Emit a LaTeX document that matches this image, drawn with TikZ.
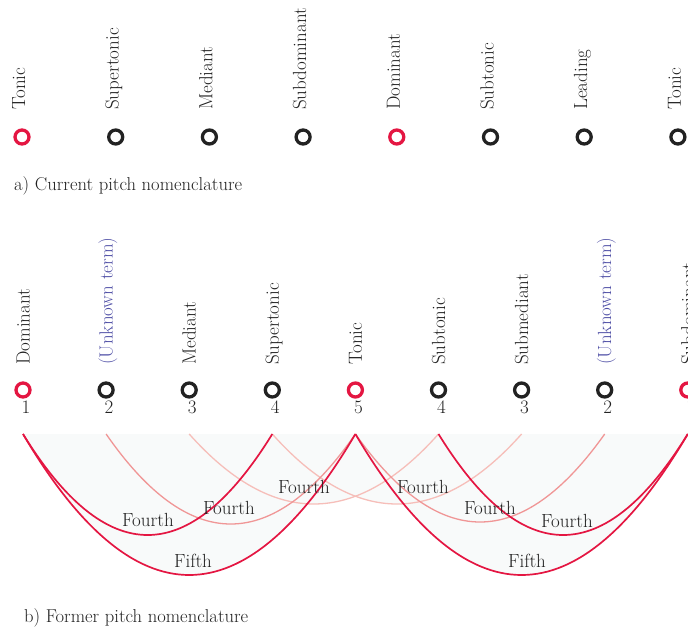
\documentclass[tikz,border=0pt]{standalone}
\usetikzlibrary{calc}
\definecolor{crim}{RGB}{228,22,66}
\definecolor{ink}{RGB}{34,34,34}
\definecolor{unk}{RGB}{78,78,165}
\definecolor{pale}{RGB}{248,250,250}
\definecolor{pinkA}{RGB}{240,150,150}
\definecolor{pinkB}{RGB}{246,190,185}
\newcommand\pitcharc[4]{%
  \draw[#1] (#2) .. controls ($(#2)!1/3!(#3)+(0,#4*4/3)$) and ($(#2)!2/3!(#3)+(0,#4*4/3)$) .. (#3);}
\newcommand\pitchfill[3]{%
  \fill[pale] (#1) .. controls ($(#1)!1/3!(#2)+(0,#3*4/3)$) and ($(#1)!2/3!(#2)+(0,#3*4/3)$) .. (#2) -- cycle;}
\begin{document}
\begin{tikzpicture}[x=1pt,y=-1pt,font=\fontsize{19}{22}\selectfont,
  pitch/.style={circle,draw=ink,line width=3.3pt,minimum size=14pt,inner sep=0pt},
  keypitch/.style={pitch,draw=crim},
  vlabel/.style={rotate=90,anchor=base west,inner sep=0pt,text=ink},
  numlabel/.style={anchor=base,inner sep=0pt,text=ink},
  caption/.style={anchor=base west,inner sep=0pt,text=ink,font=\fontsize{18.6}{22}\selectfont},
  arclabel/.style={inner sep=0pt,text=ink},
  strong/.style={draw=crim,line width=1.7pt},
  softA/.style={draw=pinkA,line width=1.3pt},
  softB/.style={draw=pinkB,line width=1.3pt}]
\useasboundingbox (0,0) rectangle (688,629);

% ---------- a) current nomenclature
\foreach \n/\t [count=\i from 0] in {Tonic/keypitch,Supertonic/pitch,Mediant/pitch,Subdominant/pitch,Dominant/keypitch,Subtonic/pitch,Leading/pitch,Tonic/pitch}{
  \node[\t] (a\i) at ({22+93.7*\i},137) {};
  \node[vlabel] (al\i) at ({25+93.7*\i},110) {\n};
}
\node[caption] (capa) at (14,190) {a) Current pitch nomenclature};

% ---------- b) former nomenclature
\foreach \n/\t/\c/\k [count=\i from 1] in {Dominant/keypitch/ink/1,(Unknown term)/pitch/unk/2,Mediant/pitch/ink/3,Supertonic/pitch/ink/4,Tonic/keypitch/ink/5,Subtonic/pitch/ink/4,Submediant/pitch/ink/3,(Unknown term)/pitch/unk/2,Subdominant/keypitch/ink/1}{
  \node[\t] (b\i) at ({23+83.1*(\i-1)},390) {};
  \node[vlabel,text=\c] (bl\i) at ({29.5+83.1*(\i-1)},365) {\n};
  \node[numlabel] (bn\i) at ({26+83.1*(\i-1)},413) {\k};
  \coordinate (p\i) at ({23+83.1*(\i-1)},434);
}

% pale ground under the arcs
\pitchfill{p1}{p5}{141}
\pitchfill{p5}{p9}{141}
\pitchfill{p1}{p4}{101}
\pitchfill{p6}{p9}{101}
\pitchfill{p2}{p5}{90}
\pitchfill{p5}{p8}{88}
\pitchfill{p3}{p6}{70}
\pitchfill{p4}{p7}{70}

% arcs
\pitcharc{softB}{p3}{p6}{70}
\pitcharc{softB}{p4}{p7}{70}
\pitcharc{softA}{p2}{p5}{90}
\pitcharc{softA}{p5}{p8}{88}
\pitcharc{strong}{p1}{p4}{101}
\pitcharc{strong}{p6}{p9}{101}
\pitcharc{strong}{p1}{p5}{141}
\pitcharc{strong}{p5}{p9}{141}

% interval labels
\node[arclabel] (f14) at (148,520) {Fourth};
\node[arclabel] (f25) at (229,508) {Fourth};
\node[arclabel] (f36) at (304,487) {Fourth};
\node[arclabel] (f47) at (423,487) {Fourth};
\node[arclabel] (f58) at (490,508) {Fourth};
\node[arclabel] (f69) at (567,521) {Fourth};
\node[arclabel] (v15) at (193,561) {Fifth};
\node[arclabel] (v59) at (527,561) {Fifth};

\node[caption] (capb) at (24,622) {b) Former pitch nomenclature};
\end{tikzpicture}
\end{document}
